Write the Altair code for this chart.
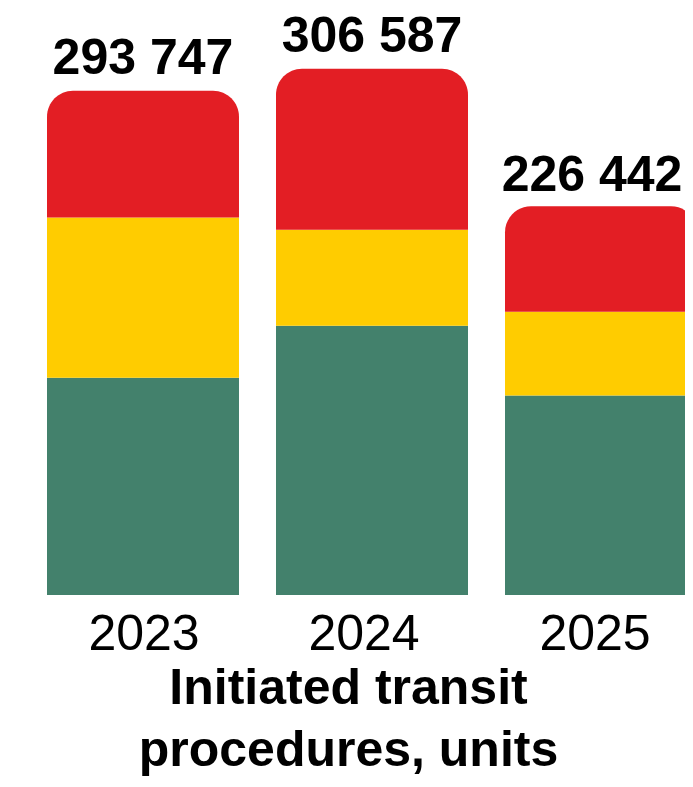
import altair as alt
import pandas as pd

years = ["2023", "2024", "2025"]
segments = ["green", "yellow", "red"]
green_vals = [126600, 156900, 116200]
yellow_vals = [93400, 55900, 48900]
red_vals = [73747, 93787, 61342]
totals = [293747, 306587, 226442]
total_labels = ["293 747", "306 587", "226 442"]
colors = ["#43816C", "#FFCC00", "#E31E24"]

FONT = "Liberation Sans"

rows = []
for i, yr in enumerate(years):
    for k, (seg, vals) in enumerate(zip(segments, [green_vals, yellow_vals, red_vals])):
        rows.append({"year": yr, "segment": seg, "value": vals[i], "order": k})
df = pd.DataFrame(rows)
tot = pd.DataFrame({"year": years, "total": totals, "label": total_labels})

x_enc = alt.X(
    "year:N",
    sort=years,
    scale=alt.Scale(range=[0, 650], paddingInner=0.1616, paddingOuter=0),
    axis=alt.Axis(
        title=["Initiated transit", "procedures, units"],
        labelAngle=0,
        labelFont=FONT,
        labelFontSize=50,
        labelColor="black",
        labelPadding=14,
        labelOffset={"condition": [
            {"test": "datum.value == '2024'", "value": -8},
            {"test": "datum.value == '2025'", "value": -6},
        ], "value": 1},
        ticks=False,
        tickSize=0,
        domain=False,
        grid=False,
        titleFont=FONT,
        titleFontSize=50,
        titleFontWeight="bold",
        titleColor="black",
        titleLineHeight=62,
        titleX=301,
        titleY=108,
        titleAlign="center",
        titleBaseline="alphabetic",
    ),
)
y_scale = alt.Scale(domain=[0, 342000])
color_enc = alt.Color("segment:N", scale=alt.Scale(domain=segments, range=colors), legend=None)

base = alt.Chart(df).transform_stack(
    stack="value", as_=["start", "end"], groupby=["year"],
    sort=[alt.SortField("order", order="ascending")],
)

lower = base.transform_filter("datum.segment != 'red'").mark_bar().encode(
    x=x_enc,
    y=alt.Y("start:Q", scale=y_scale, axis=None),
    y2="end:Q",
    color=color_enc,
)
upper = base.transform_filter("datum.segment == 'red'").mark_bar(
    cornerRadiusTopLeft=26, cornerRadiusTopRight=26
).encode(
    x=x_enc,
    y=alt.Y("start:Q", scale=y_scale, axis=None),
    y2="end:Q",
    color=color_enc,
)
text_style = dict(baseline="alphabetic", fontSize=50, fontWeight="bold", font=FONT, color="black")
labels = alt.Chart(tot).transform_filter("datum.year != '2025'").mark_text(
    dy=-17, **text_style
).encode(
    x=x_enc,
    y=alt.Y("total:Q", scale=y_scale, axis=None),
    text="label:N",
)
labels_last = alt.Chart(tot).transform_filter("datum.year == '2025'").mark_text(
    dy=-15, dx=-9, **text_style
).encode(
    x=x_enc,
    y=alt.Y("total:Q", scale=y_scale, axis=None),
    text="label:N",
)

chart = alt.layer(lower, upper, labels, labels_last).properties(
    width=638,
    height=587,
    autosize=alt.AutoSizeParams(type="none"),
    padding={"left": 39, "top": 0, "right": 0, "bottom": 184},
).configure_view(stroke=None)

chart.save("out.html", embed_options={"renderer": "svg", "actions": False})
